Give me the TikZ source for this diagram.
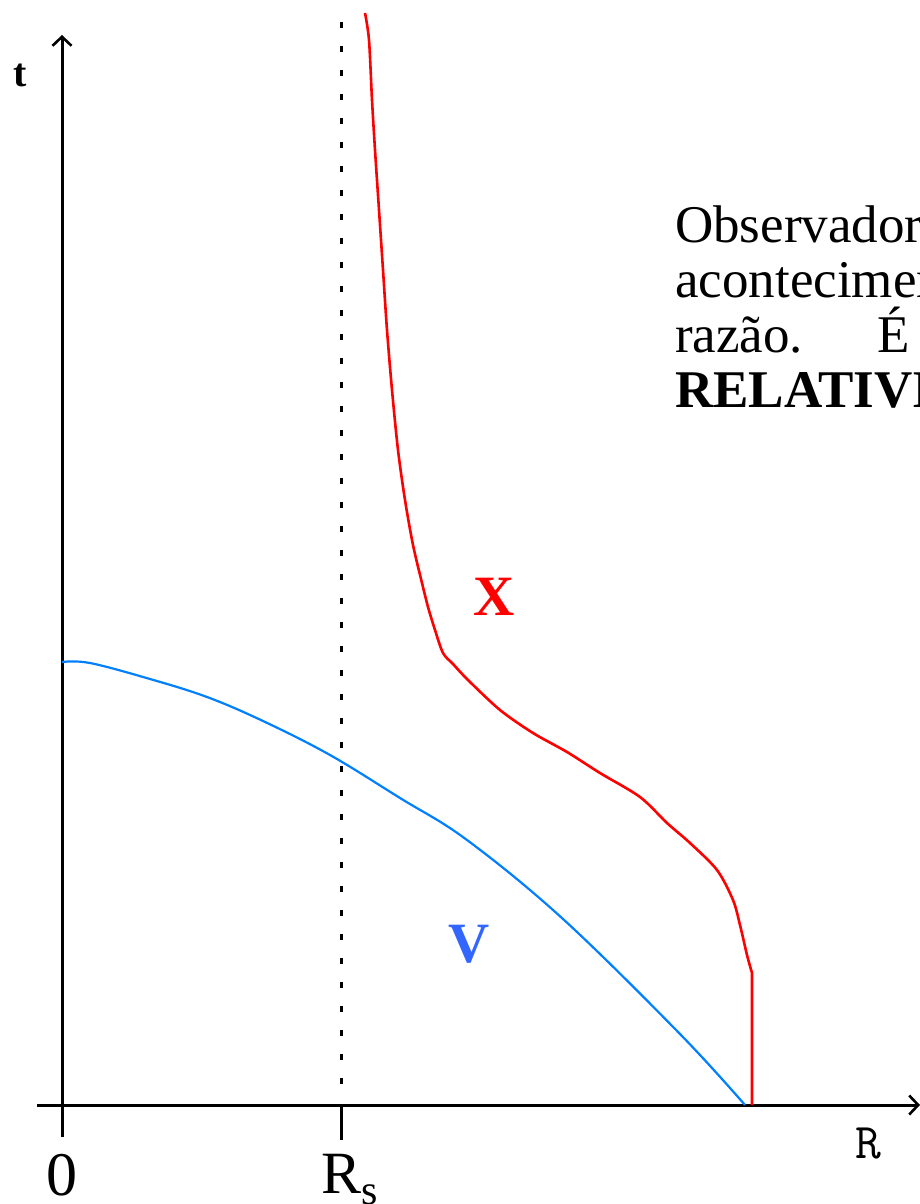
\documentclass[tikz,border=0pt]{standalone}
\usepackage{fontspec}
\setmainfont{Liberation Serif}
\usetikzlibrary{arrows.meta}
\definecolor{curvered}{RGB}{255,0,0}
\definecolor{curveblue}{RGB}{0,128,255}
\definecolor{labelblue}{RGB}{51,102,255}
\begin{document}
\begin{tikzpicture}[x=1pt, y=-1pt, line join=round,
    axis/.style={black, line width=3pt},
    barb/.style={-{Straight Barb[length=9pt, width=19pt, line width=2.6pt]}},
    worldline/.style={line width=2.6pt},
    bigtext/.style={inner sep=0pt, font=\fontsize{53}{53}\selectfont}]
  \useasboundingbox (0,0) rectangle (920,1204);
  \clip (0,0) rectangle (920,1204);
  % --- axes --------------------------------------------------------
  \coordinate (tbot) at (62,1137);
  \coordinate (ttop) at (62,35);
  \coordinate (rleft) at (37,1105);
  \coordinate (rright) at (920,1105);
  \coordinate (rsbot) at (341,1140);
  \coordinate (rsaxis) at (341,1105);
  \coordinate (rstop) at (341,22);
  \draw[axis, barb] (tbot) -- (ttop);
  \draw[axis, barb] (rleft) -- (rright);
  \draw[axis] (rsaxis) -- (rsbot);
  % --- Schwarzschild radius ----------------------------------------
  \draw[black, line width=3pt, dash pattern=on 6pt off 18pt] (rstop) -- (341,1090);
  % --- labels ------------------------------------------------------
  \node[inner sep=0pt, anchor=base, font=\fontsize{40}{40}\selectfont\bfseries] (tlab) at (20,87) {t};
  \node[inner sep=0pt, anchor=base, font=\fontsize{62}{62}\selectfont] (zero) at (62,1195) {0};
  \node[inner sep=0pt, anchor=base west, font=\fontsize{60}{60}\selectfont] (rslab) at (321,1193) {R\textsubscript{s}};
  \node[inner sep=0pt, anchor=base, font=\fontsize{50}{50}\selectfont\ttfamily] (rlab) at (868,1158) {R};
  % --- X (red) -----------------------------------------------------
  \draw[worldline, curvered] plot[smooth, tension=0.5] coordinates {
    (365,13) (369,40) (372,100) (375,150) (379,210) (383,270) (387,330)
    (392,390) (398,450) (405,500) (413,545) (422,583) (428,607) (435,630)
    (443,653) (453,664) (468,680) (500,710) (533,733) (567,752) (600,773)
    (640,797) (667,823) (690,843) (717,870) (733,900) (740,925)
    (747,955) (752,973)} -- (752,1105);
  \node[inner sep=0pt, anchor=base, text=curvered, font=\fontsize{57}{57}\selectfont\bfseries] (xlab) at (494,615) {X};
  % --- V (blue) ----------------------------------------------------
  \draw[worldline, curveblue, line width=2.2pt] plot[smooth, tension=0.6] coordinates {
    (62,662) (90,663) (150,679) (207,697) (263,721) (330,755) (400,798)
    (467,840) (563,919) (680,1034) (745,1105)};
  \node[inner sep=0pt, anchor=base, text=labelblue, font=\fontsize{57}{57}\selectfont\bfseries] (vlab) at (469,962) {V};
  % --- text --------------------------------------------------------
  \node[bigtext, anchor=base west] (line1) at (675,242) {Observador};
  \node[bigtext, anchor=base west] (line2) at (675,297) {acontecimen};
  \node[bigtext, anchor=base west] (line3) at (675,352) {razão.\hspace{74pt}É};
  \node[bigtext, anchor=base west, font=\fontsize{53}{53}\selectfont\bfseries] (line4) at (675,407) {RELATIVI};
\end{tikzpicture}
\end{document}
